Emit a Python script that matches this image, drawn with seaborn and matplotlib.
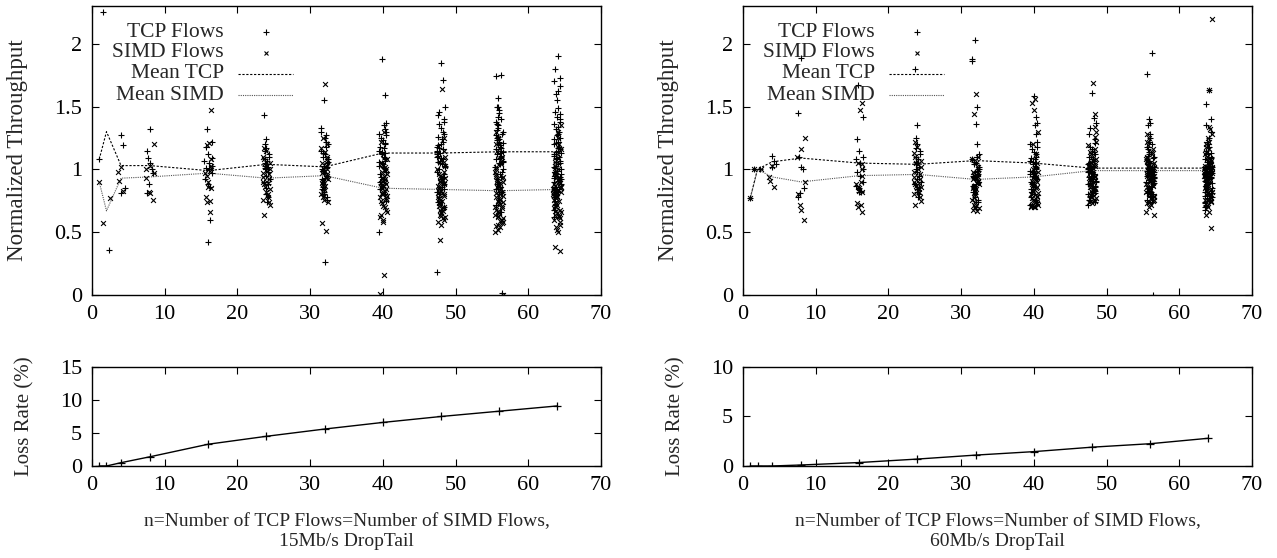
import numpy as np
import pandas as pd
import matplotlib
matplotlib.use("Agg")
import matplotlib.pyplot as plt
import seaborn as sns

# number of flows of each kind
N = [1, 2, 4, 8, 16, 24, 32, 40, 48, 56, 64]

# ---- 15Mb/s DropTail: normalized throughput of each flow ----
TCP_15 = [
    [1.08],
    [2.25, 0.36],
    [1.27, 1.19, 0.85, 0.81],
    [1.32, 1.15, 1.09, 1.05, 1.00, 0.97, 0.88, 0.81],
    [1.32, 1.22, 1.18, 1.12, 1.09, 1.07, 1.05, 1.03, 1.01, 1.00, 0.97, 0.92, 0.88, 0.86, 0.60, 0.42],
    [1.43, 1.24, 1.20, 1.17, 1.15, 1.12, 1.10, 1.08, 1.07, 1.05, 1.04, 1.03, 1.02, 1.01, 1.00, 0.98,
     0.95, 0.92, 0.90, 0.88, 0.85, 0.80, 0.78, 0.74],
    [1.55, 1.33, 1.30, 1.27, 1.25, 1.22, 1.20, 1.18, 1.15, 1.13, 1.12, 1.10, 1.08, 1.06, 1.05, 1.03,
     1.02, 1.00, 0.99, 0.97, 0.95, 0.93, 0.92, 0.90, 0.88, 0.86, 0.84, 0.82, 0.80, 0.78, 0.76, 0.26],
    [1.88, 1.59, 1.37, 1.35, 1.32, 1.30, 1.28, 1.27, 1.25, 1.23, 1.21, 1.20, 1.18, 1.17, 1.15, 1.14,
     1.13, 1.12, 1.10, 1.09, 1.08, 1.07, 1.06, 1.05, 1.04, 1.03, 1.02, 1.01, 1.00, 0.98, 0.96, 0.94,
     0.92, 0.90, 0.88, 0.86, 0.84, 0.80, 0.75, 0.50],
    [1.85, 1.71, 1.50, 1.46, 1.43, 1.40, 1.38, 1.36, 1.33, 1.30, 1.28, 1.26, 1.24, 1.22, 1.20, 1.19,
     1.18, 1.17, 1.16, 1.15, 1.14, 1.13, 1.12, 1.11, 1.10, 1.09, 1.08, 1.07, 1.06, 1.05, 1.04, 1.03,
     1.02, 1.00, 0.98, 0.96, 0.94, 0.92, 0.90, 0.88, 0.86, 0.84, 0.82, 0.80, 0.78, 0.74, 0.70, 0.18],
    [1.75, 1.74, 1.57, 1.50, 1.50, 1.47, 1.45, 1.42, 1.40, 1.38, 1.36, 1.35, 1.33, 1.31, 1.30, 1.28,
     1.27, 1.26, 1.25, 1.24, 1.23, 1.22, 1.21, 1.20, 1.19, 1.18, 1.17, 1.16, 1.15, 1.14, 1.13, 1.12,
     1.11, 1.10, 1.09, 1.08, 1.07, 1.06, 1.05, 1.04, 1.02, 1.00, 0.98, 0.96, 0.94, 0.92, 0.90, 0.88,
     0.86, 0.84, 0.82, 0.80, 0.76, 0.72, 0.66, 0.02],
    [1.90, 1.80, 1.73, 1.70, 1.66, 1.62, 1.60, 1.55, 1.49, 1.46, 1.44, 1.42, 1.40, 1.38, 1.36, 1.34,
     1.32, 1.30, 1.28, 1.27, 1.25, 1.24, 1.22, 1.21, 1.20, 1.18, 1.17, 1.16, 1.15, 1.14, 1.13, 1.12,
     1.11, 1.10, 1.09, 1.08, 1.07, 1.06, 1.05, 1.04, 1.03, 1.02, 1.01, 1.00, 0.99, 0.98, 0.97, 0.96,
     0.95, 0.94, 0.93, 0.92, 0.91, 0.90, 0.88, 0.86, 0.84, 0.82, 0.80, 0.78, 0.75, 0.72, 0.68, 0.62],
]
SIMD_15 = [
    [0.90],
    [0.77, 0.57],
    [1.02, 0.98, 0.91, 0.83],
    [1.20, 1.03, 1.00, 0.97, 0.93, 0.82, 0.81, 0.76],
    [1.47, 1.21, 1.19, 1.08, 1.03, 1.01, 0.99, 0.97, 0.95, 0.90, 0.86, 0.85, 0.78, 0.75, 0.74, 0.66],
    [1.17, 1.15, 1.10, 1.08, 1.05, 1.02, 1.00, 0.99, 0.97, 0.96, 0.94, 0.92, 0.90, 0.89, 0.88, 0.86,
     0.84, 0.82, 0.80, 0.78, 0.76, 0.74, 0.72, 0.64],
    [1.68, 1.25, 1.20, 1.17, 1.14, 1.10, 1.08, 1.05, 1.03, 1.01, 1.00, 0.99, 0.97, 0.96, 0.95, 0.93,
     0.92, 0.91, 0.90, 0.89, 0.87, 0.86, 0.85, 0.84, 0.82, 0.80, 0.79, 0.78, 0.76, 0.74, 0.57, 0.51],
    [1.30, 1.22, 1.12, 1.08, 1.05, 1.02, 1.00, 0.98, 0.96, 0.95, 0.93, 0.92, 0.91, 0.90, 0.89, 0.88,
     0.87, 0.86, 0.85, 0.84, 0.83, 0.82, 0.81, 0.80, 0.79, 0.78, 0.77, 0.76, 0.75, 0.73, 0.71, 0.70,
     0.68, 0.66, 0.64, 0.62, 0.60, 0.58, 0.16, 0.01],
    [1.64, 1.25, 1.15, 1.10, 1.06, 1.03, 1.00, 0.98, 0.96, 0.95, 0.94, 0.93, 0.92, 0.91, 0.90, 0.89,
     0.88, 0.87, 0.86, 0.85, 0.84, 0.83, 0.82, 0.81, 0.80, 0.79, 0.78, 0.77, 0.76, 0.75, 0.74, 0.73,
     0.72, 0.71, 0.70, 0.69, 0.68, 0.67, 0.66, 0.65, 0.64, 0.63, 0.62, 0.61, 0.60, 0.58, 0.56, 0.44],
    [1.30, 1.25, 1.20, 1.15, 1.10, 1.07, 1.04, 1.02, 1.00, 0.98, 0.96, 0.95, 0.94, 0.93, 0.92, 0.91,
     0.90, 0.89, 0.88, 0.87, 0.86, 0.85, 0.84, 0.83, 0.82, 0.81, 0.80, 0.79, 0.78, 0.77, 0.76, 0.75,
     0.74, 0.73, 0.72, 0.71, 0.70, 0.69, 0.68, 0.67, 0.66, 0.65, 0.64, 0.63, 0.62, 0.61, 0.60, 0.59,
     0.58, 0.57, 0.56, 0.55, 0.54, 0.52, 0.50, 0.00],
    [1.35, 1.30, 1.25, 1.20, 1.16, 1.12, 1.09, 1.06, 1.03, 1.00, 0.98, 0.96, 0.95, 0.94, 0.93, 0.92,
     0.91, 0.90, 0.89, 0.88, 0.87, 0.86, 0.86, 0.85, 0.85, 0.84, 0.84, 0.83, 0.83, 0.82, 0.82, 0.81,
     0.81, 0.80, 0.80, 0.79, 0.79, 0.78, 0.78, 0.77, 0.76, 0.75, 0.74, 0.73, 0.72, 0.71, 0.70, 0.69,
     0.68, 0.67, 0.66, 0.65, 0.64, 0.63, 0.62, 0.61, 0.60, 0.58, 0.56, 0.54, 0.52, 0.50, 0.38, 0.35],
]
MEAN_TCP_15 = [1.08, 1.30, 1.03, 1.03, 0.99, 1.04, 1.02, 1.13, 1.13, 1.14, 1.14]
MEAN_SIMD_15 = [0.90, 0.67, 0.93, 0.94, 0.97, 0.93, 0.95, 0.85, 0.84, 0.83, 0.84]
LOSS_15 = [0.0, 0.0, 0.5, 1.4, 3.3, 4.5, 5.6, 6.6, 7.5, 8.3, 9.1]

# ---- 60Mb/s DropTail ----
TCP_60 = [
    [0.77],
    [1.00, 1.00],
    [1.11, 1.07, 1.04, 1.02],
    [1.89, 1.45, 1.10, 1.02, 1.00, 0.85, 0.81, 0.78],
    [1.67, 1.42, 1.24, 1.15, 1.10, 1.08, 1.05, 1.00, 0.98, 0.95, 0.90, 0.87, 0.85, 0.83, 0.82, 0.82],
    [1.80, 1.35, 1.25, 1.20, 1.17, 1.15, 1.12, 1.10, 1.08, 1.06, 1.05, 1.04, 1.02, 1.00, 0.98, 0.95,
     0.92, 0.90, 0.88, 0.86, 0.84, 0.82, 0.80, 0.78],
    [2.03, 1.88, 1.86, 1.50, 1.36, 1.20, 1.12, 1.10, 1.08, 1.06, 1.05, 1.04, 1.02, 1.00, 0.99, 0.98,
     0.96, 0.95, 0.94, 0.92, 0.90, 0.88, 0.87, 0.86, 0.85, 0.84, 0.82, 0.80, 0.78, 0.76, 0.74, 0.70],
    [1.58, 1.42, 1.37, 1.35, 1.28, 1.22, 1.20, 1.18, 1.16, 1.14, 1.12, 1.10, 1.09, 1.08, 1.07, 1.06,
     1.05, 1.04, 1.03, 1.02, 1.01, 1.00, 0.99, 0.98, 0.97, 0.96, 0.95, 0.94, 0.93, 0.92, 0.90, 0.88,
     0.86, 0.84, 0.82, 0.80, 0.78, 0.76, 0.74, 0.72],
    [1.61, 1.41, 1.37, 1.33, 1.28, 1.24, 1.21, 1.18, 1.16, 1.14, 1.12, 1.10, 1.08, 1.07, 1.06, 1.05,
     1.04, 1.03, 1.02, 1.01, 1.00, 1.00, 0.99, 0.99, 0.98, 0.97, 0.96, 0.95, 0.94, 0.93, 0.92, 0.91,
     0.90, 0.89, 0.88, 0.87, 0.86, 0.85, 0.84, 0.83, 0.82, 0.81, 0.80, 0.79, 0.78, 0.76, 0.74, 0.72],
    [1.93, 1.76, 1.40, 1.37, 1.35, 1.28, 1.25, 1.22, 1.20, 1.18, 1.16, 1.14, 1.12, 1.11, 1.10, 1.09,
     1.08, 1.07, 1.06, 1.05, 1.04, 1.03, 1.02, 1.01, 1.00, 1.00, 0.99, 0.99, 0.98, 0.98, 0.97, 0.97,
     0.96, 0.96, 0.95, 0.95, 0.94, 0.93, 0.92, 0.91, 0.90, 0.89, 0.88, 0.87, 0.86, 0.85, 0.84, 0.83,
     0.82, 0.81, 0.80, 0.79, 0.78, 0.76, 0.74, 0.00],
    [1.63, 1.52, 1.40, 1.35, 1.30, 1.25, 1.22, 1.20, 1.18, 1.15, 1.13, 1.12, 1.10, 1.09, 1.08, 1.07,
     1.06, 1.05, 1.04, 1.03, 1.02, 1.02, 1.01, 1.01, 1.00, 1.00, 0.99, 0.99, 0.98, 0.98, 0.97, 0.97,
     0.96, 0.96, 0.95, 0.95, 0.94, 0.94, 0.93, 0.93, 0.92, 0.91, 0.90, 0.89, 0.88, 0.87, 0.86, 0.85,
     0.84, 0.83, 0.82, 0.81, 0.80, 0.79, 0.78, 0.77, 0.76, 0.75, 0.74, 0.73, 0.72, 0.71, 0.70, 0.68],
]
SIMD_60 = [
    [0.77],
    [1.00, 1.00],
    [1.03, 0.94, 0.91, 0.86],
    [1.25, 1.16, 1.10, 0.90, 0.80, 0.72, 0.68, 0.60],
    [1.53, 1.47, 1.05, 1.04, 1.00, 0.95, 0.90, 0.88, 0.86, 0.85, 0.83, 0.82, 0.73, 0.72, 0.70, 0.66],
    [1.22, 1.18, 1.13, 1.10, 1.07, 1.05, 1.02, 1.00, 0.98, 0.96, 0.94, 0.92, 0.90, 0.89, 0.88, 0.87,
     0.86, 0.85, 0.84, 0.82, 0.80, 0.78, 0.75, 0.72],
    [1.60, 1.44, 1.10, 1.08, 1.05, 1.02, 1.00, 0.98, 0.96, 0.95, 0.94, 0.93, 0.92, 0.91, 0.90, 0.89,
     0.88, 0.87, 0.86, 0.85, 0.84, 0.83, 0.82, 0.80, 0.78, 0.76, 0.74, 0.72, 0.70, 0.69, 0.68, 0.67],
    [1.56, 1.53, 1.47, 1.30, 1.20, 1.12, 1.05, 1.00, 0.98, 0.96, 0.95, 0.94, 0.93, 0.92, 0.91, 0.90,
     0.89, 0.88, 0.87, 0.86, 0.85, 0.84, 0.83, 0.82, 0.81, 0.80, 0.79, 0.78, 0.77, 0.76, 0.75, 0.74,
     0.73, 0.72, 0.72, 0.71, 0.71, 0.70, 0.70, 0.70],
    [1.69, 1.44, 1.34, 1.30, 1.26, 1.22, 1.19, 1.16, 1.14, 1.12, 1.10, 1.08, 1.07, 1.06, 1.05, 1.04,
     1.03, 1.02, 1.01, 1.00, 0.99, 0.98, 0.97, 0.96, 0.95, 0.94, 0.93, 0.92, 0.91, 0.90, 0.89, 0.88,
     0.87, 0.86, 0.85, 0.84, 0.83, 0.82, 0.81, 0.80, 0.79, 0.78, 0.77, 0.76, 0.75, 0.74, 0.73, 0.75],
    [1.28, 1.25, 1.22, 1.19, 1.16, 1.14, 1.12, 1.10, 1.09, 1.08, 1.07, 1.06, 1.05, 1.04, 1.03, 1.02,
     1.01, 1.00, 1.00, 0.99, 0.99, 0.98, 0.98, 0.97, 0.97, 0.96, 0.96, 0.95, 0.95, 0.94, 0.94, 0.93,
     0.92, 0.91, 0.90, 0.89, 0.88, 0.87, 0.86, 0.85, 0.84, 0.83, 0.82, 0.81, 0.80, 0.79, 0.78, 0.77,
     0.76, 0.75, 0.74, 0.73, 0.72, 0.70, 0.66, 0.64],
    [2.20, 1.63, 1.34, 1.32, 1.28, 1.25, 1.22, 1.20, 1.18, 1.16, 1.14, 1.12, 1.10, 1.09, 1.08, 1.07,
     1.06, 1.05, 1.04, 1.03, 1.02, 1.02, 1.01, 1.01, 1.00, 1.00, 0.99, 0.99, 0.98, 0.98, 0.97, 0.97,
     0.96, 0.96, 0.95, 0.95, 0.94, 0.94, 0.93, 0.93, 0.92, 0.91, 0.90, 0.89, 0.88, 0.87, 0.86, 0.85,
     0.84, 0.83, 0.82, 0.81, 0.80, 0.79, 0.78, 0.77, 0.76, 0.75, 0.74, 0.72, 0.70, 0.66, 0.64, 0.53],
]
MEAN_TCP_60 = [0.77, 1.00, 1.06, 1.09, 1.05, 1.04, 1.07, 1.05, 1.01, 1.01, 1.01]
MEAN_SIMD_60 = [0.77, 1.00, 0.94, 0.90, 0.95, 0.96, 0.92, 0.94, 0.99, 0.99, 0.99]
LOSS_60 = [0.0, 0.0, 0.0, 0.1, 0.35, 0.7, 1.1, 1.45, 1.9, 2.25, 2.8]

LEGEND_LABELS = ["TCP Flows", "SIMD Flows", "Mean TCP", "Mean SIMD"]
XLABEL = "n=Number of TCP Flows=Number of SIMD Flows,"

TICK_FS = 16


def long_form(groups):
    rows = [(n, v) for n, vals in zip(N, groups) for v in vals]
    return pd.DataFrame(rows, columns=["n", "thr"])


def style_axes(ax, ymax, yticks, yticklabels):
    ax.set_xlim(0, 70)
    ax.set_ylim(0, ymax)
    ax.set_xticks(range(0, 71, 10))
    ax.set_yticks(yticks)
    ax.set_yticklabels(yticklabels)
    ax.tick_params(direction="in", top=True, right=True, length=5, width=0.8,
                   labelsize=TICK_FS, pad=7, colors="black")
    for s in ax.spines.values():
        s.set_linewidth(1.0)
        s.set_color("black")


def draw_legend(ax):
    ys = [0.909, 0.838, 0.765, 0.692]
    for lab, y in zip(LEGEND_LABELS, ys):
        ax.text(0.259, y, lab, transform=ax.transAxes, ha="right", va="center", fontsize=15.5)
    ax.plot([0.342], [ys[0]], "+", color="black", ms=4.5, mew=0.8, transform=ax.transAxes)
    ax.plot([0.342], [ys[1]], "x", color="black", ms=3.5, mew=0.8, transform=ax.transAxes)
    ax.plot([0.287, 0.395], [ys[2]] * 2, color="black", lw=0.8, ls=(0, (2, 1.5)), transform=ax.transAxes)
    ax.plot([0.287, 0.395], [ys[3]] * 2, color="#555555", lw=0.8, ls=(0, (1, 1)), transform=ax.transAxes)


def throughput_panel(ax, tcp, simd, mean_tcp, mean_simd):
    np.random.seed(7)
    sns.stripplot(data=long_form(tcp), x="n", y="thr", native_scale=True, jitter=0.55,
                  marker="+", size=4.5, color="black", linewidth=0.8, edgecolor="black", ax=ax)
    sns.stripplot(data=long_form(simd), x="n", y="thr", native_scale=True, jitter=0.55,
                  marker="x", size=3.5, color="black", linewidth=0.8, edgecolor="black", ax=ax)
    sns.lineplot(x=N, y=mean_tcp, ax=ax, color="black", lw=0.8, ls=(0, (2, 1.5)))
    sns.lineplot(x=N, y=mean_simd, ax=ax, color="#555555", lw=0.8, ls=(0, (1, 1)))
    style_axes(ax, 2.3, [0, 0.5, 1, 1.5, 2], ["0", "0.5", "1", "1.5", "2"])
    ax.set_xlabel("")
    ax.set_ylabel("Normalized Throughput", fontsize=16.5)
    ax.yaxis.set_label_coords(-0.126, 0.5)
    draw_legend(ax)


def loss_panel(ax, loss, ymax, yticks, link):
    sns.lineplot(x=N, y=loss, ax=ax, color="black", lw=1.0, marker="+", ms=5.5,
                 mew=0.9, mec="black", mfc="black")
    style_axes(ax, ymax, yticks, [str(t) for t in yticks])
    ax.set_ylabel("Loss Rate (%)", fontsize=15)
    ax.yaxis.set_label_coords(-0.113, 0.5)
    ax.set_xlabel(XLABEL + "\n" + link, fontsize=14, linespacing=1.25, labelpad=13)


sns.set_theme(style="ticks")
plt.rcParams["font.family"] = ["Liberation Serif", "DejaVu Serif"]

fig = plt.figure(figsize=(12.77, 5.58), dpi=100)
ax_tl = fig.add_axes([0.0720, 0.4713, 0.3986, 0.5179])
ax_tr = fig.add_axes([0.5818, 0.4713, 0.3986, 0.5179])
ax_bl = fig.add_axes([0.0720, 0.1649, 0.3986, 0.1774])
ax_br = fig.add_axes([0.5818, 0.1649, 0.3986, 0.1774])

throughput_panel(ax_tl, TCP_15, SIMD_15, MEAN_TCP_15, MEAN_SIMD_15)
throughput_panel(ax_tr, TCP_60, SIMD_60, MEAN_TCP_60, MEAN_SIMD_60)
loss_panel(ax_bl, LOSS_15, 15, [0, 5, 10, 15], "15Mb/s DropTail")
loss_panel(ax_br, LOSS_60, 10, [0, 5, 10], "60Mb/s DropTail")

fig.savefig("out.png", dpi=100, facecolor="white")
